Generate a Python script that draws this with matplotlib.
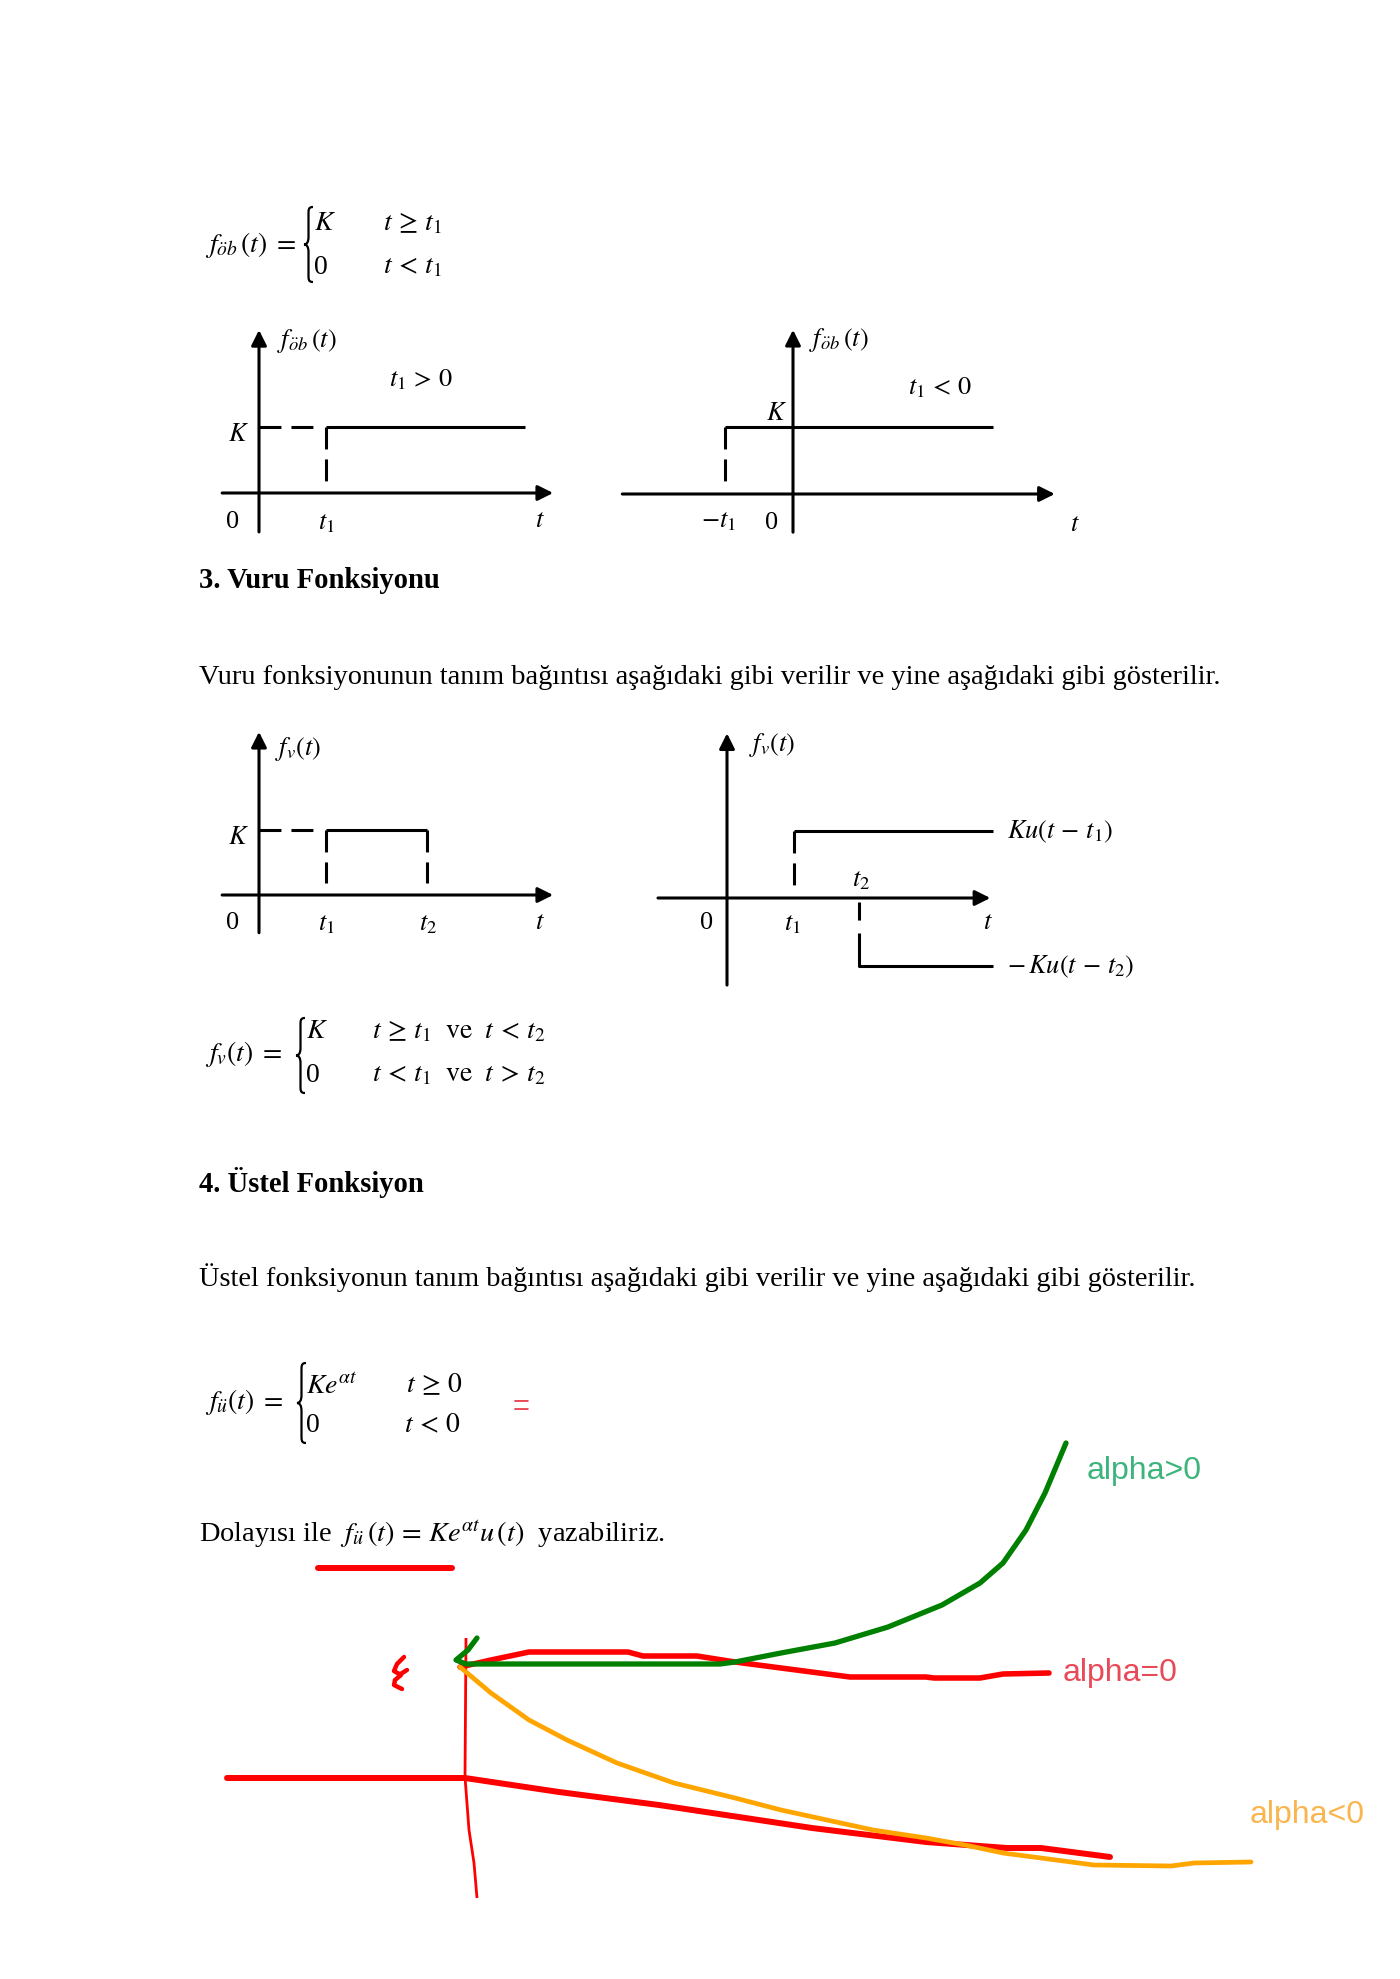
import numpy as np
import matplotlib
matplotlib.use("Agg")
import matplotlib.pyplot as plt
from matplotlib.path import Path
from matplotlib.patches import PathPatch

plt.rcParams.update({
    "font.family": ["Liberation Serif", "DejaVu Serif"],
    "mathtext.fontset": "stix",
    "lines.scale_dashes": False,
    "lines.solid_capstyle": "butt",
})

W, H = 1400, 1979
LW = 2.2                 # axis / signal line width (pt)
DASH = (15.8, 7.2)       # dash pattern (pt)
DIAG_FS = 19
EQ_FS = 20
BODY_FS = 20.4
HEAD_FS = 20.6

# ---------------- diagram data (t in units of t1, f in units of K) ----------------
# step function, t1 > 0
S1_TAXIS = [-0.55, 4.39]
S1_FAXIS = [-0.59, 2.47]
S1_T = [1.0, 3.97]
S1_F = [1.0, 1.0]
S1_GUIDE_T = [0.0, 0.84]
S1_DROP_F = [1.0, 0.15]

# step function, t1 < 0
S2_TAXIS = [-2.51, 3.85]
S2_FAXIS = [-0.57, 2.45]
S2_T = [-1.0, 2.94]
S2_F = [1.0, 1.0]
S2_DROP_F = [1.0, 0.16]

# pulse
P1_TAXIS = [-0.55, 4.39]
P1_FAXIS = [-0.58, 2.51]
P1_T = [1.0, 2.51]
P1_F = [1.0, 1.0]
P1_GUIDE_T = [0.0, 0.84]
P1_DROP_F = [1.0, 0.18]

# pulse as sum of two steps
P2_TAXIS = [-1.03, 3.93]
P2_FAXIS = [-1.29, 2.44]
P2_UP_T = [1.0, 3.97]
P2_UP_F = [1.0, 1.0]
P2_UP_DROP = [1.0, 0.19]
P2_DN_T = [1.97, 1.97, 3.97]
P2_DN_F = [-0.52, -1.0, -1.0]
P2_DN_DROP = [-0.06, -0.52]

# ---------------- hand-drawn sketch (page pixels) ----------------
GREEN_X = [477, 468, 456, 466, 720, 735, 781, 835, 888, 942, 980, 1003, 1026, 1045, 1066]
GREEN_Y = [1638, 1650, 1660, 1664, 1664, 1662, 1653, 1643, 1627, 1605, 1583, 1563, 1530, 1493, 1443]
RED0_X = [460, 491, 529, 628, 643, 697, 735, 781, 850, 926, 934, 980, 1003, 1049]
RED0_Y = [1667, 1660, 1652, 1652, 1656, 1656, 1662, 1668, 1677, 1677, 1678, 1678, 1674, 1673]
ORANGE_X = [460, 491, 529, 567, 617, 674, 735, 781, 827, 873, 926, 965, 1003, 1056, 1094, 1171, 1194, 1251]
ORANGE_Y = [1667, 1693, 1720, 1740, 1763, 1783, 1798, 1810, 1820, 1830, 1838, 1845, 1853, 1860, 1865, 1866, 1863, 1862]
VAXIS_X = [466, 465, 469, 474, 477]
VAXIS_Y = [1638, 1777, 1830, 1863, 1898]
RED_LOW_X = [227, 465, 559, 659, 812, 926, 1007, 1041, 1110]
RED_LOW_Y = [1778, 1778, 1792, 1805, 1828, 1842, 1848, 1848, 1857]
KMARK_X = [404, 397, 394, 401, 395, 394, 402]
KMARK_Y = [1657, 1664, 1671, 1675, 1680, 1685, 1689]
KTICK_X = [399, 407]
KTICK_Y = [1675, 1670]
UNDER_X = [318, 452]
UNDER_Y = [1568, 1568]

fig = plt.figure(figsize=(W / 100, H / 100), dpi=100)
page = fig.add_axes([0, 0, 1, 1])
page.set_xlim(0, W); page.set_ylim(H, 0); page.axis("off")


def diagram(ox, oy, ux, uy):
    """Full-page transparent axes whose data origin sits at pixel (ox, oy)."""
    ax = fig.add_axes([0, 0, 1, 1])
    ax.set_xlim(-ox / ux, (W - ox) / ux)
    ax.set_ylim((oy - H) / uy, oy / uy)
    ax.axis("off"); ax.patch.set_alpha(0)
    return ax


def axes_arrows(ax, trange, frange):
    kw = dict(arrowstyle="-|>", lw=LW, color="k", mutation_scale=23, shrinkA=0, shrinkB=0)
    ax.annotate("", xy=(trange[1], 0), xytext=(trange[0], 0), arrowprops=kw)
    ax.annotate("", xy=(0, frange[1]), xytext=(0, frange[0]), arrowprops=kw)


def dashed(ax, x, y):
    ax.plot(x, y, color="k", lw=LW, dashes=DASH)


def brace(x, y0, y1, w=9):
    h = y1 - y0; ym = (y0 + y1) / 2; xm = x + w * 0.5
    verts = [(x + w, y0), (x + w * 0.45, y0), (xm, y0 + h * 0.04), (xm, y0 + h * 0.12),
             (xm, ym - h * 0.10),
             (xm, ym - h * 0.03), (x + w * 0.3, ym), (x, ym),
             (x + w * 0.3, ym), (xm, ym + h * 0.03), (xm, ym + h * 0.10),
             (xm, y1 - h * 0.12),
             (xm, y1 - h * 0.04), (x + w * 0.45, y1), (x + w, y1)]
    codes = [Path.MOVETO] + [Path.CURVE4] * 3 + [Path.LINETO] + [Path.CURVE4] * 6 + \
            [Path.LINETO] + [Path.CURVE4] * 3
    page.add_patch(PathPatch(Path(verts, codes), fill=False, lw=1.6, color="k"))


def eq(x, y, s, fs=EQ_FS, **kw):
    page.text(x, y, s, fontsize=fs, va="center", ha="left", **kw)


def lbl(ax, x, y, s, ha="center"):
    ax.text(x, y, s, fontsize=DIAG_FS, va="center", ha=ha)


# ---------------- formula 1 ----------------
eq(205, 245, r"$f_{\ddot{o}b}\,(t)\;=$")
brace(304, 207, 282)
eq(314, 224, r"$K$"); eq(314, 267, "0")
eq(383, 224, r"$t\,\geq\, t_1$"); eq(383, 267, r"$t\,<\,t_1$")

# ---------------- diagram 1 ----------------
d1 = diagram(259, 493, 67, 66)
axes_arrows(d1, S1_TAXIS, S1_FAXIS)
d1.plot(S1_T, S1_F, color="k", lw=LW)
dashed(d1, S1_GUIDE_T, [S1_F[0]] * 2)
dashed(d1, [S1_T[0]] * 2, S1_DROP_F)
lbl(d1, 0.27, 2.3, r"$f_{\ddot{o}b}\,(t)$", ha="left")
lbl(d1, 2.42, 1.72, r"$t_1\,>\,0$")
lbl(d1, -0.31, 0.88, r"$K$")
lbl(d1, -0.39, -0.44, "0")
lbl(d1, 1.0, -0.46, r"$t_1$")
lbl(d1, 4.19, -0.43, r"$t$")

# ---------------- diagram 2 ----------------
d2 = diagram(793, 494, 68, 67)
axes_arrows(d2, S2_TAXIS, S2_FAXIS)
d2.plot(S2_T, S2_F, color="k", lw=LW)
dashed(d2, [S2_T[0]] * 2, S2_DROP_F)
lbl(d2, 0.24, 2.3, r"$f_{\ddot{o}b}\,(t)$", ha="left")
lbl(d2, 2.16, 1.58, r"$t_1\,<\,0$")
lbl(d2, -0.24, 1.2, r"$K$")
lbl(d2, -1.1, -0.41, r"$-t_1$")
lbl(d2, -0.31, -0.43, "0")
lbl(d2, 4.15, -0.46, r"$t$")

# ---------------- section 3 ----------------
page.text(199, 581, "3. Vuru Fonksiyonu", fontsize=HEAD_FS, fontweight="bold", va="center")
page.text(199, 678, "Vuru fonksiyonunun tanım bağıntısı aşağıdaki gibi verilir ve yine "
          "aşağıdaki gibi gösterilir.", fontsize=BODY_FS, va="center")

# ---------------- diagram 3 ----------------
d3 = diagram(259, 895, 67, 65)
axes_arrows(d3, P1_TAXIS, P1_FAXIS)
d3.plot(P1_T, P1_F, color="k", lw=LW)
dashed(d3, P1_GUIDE_T, [P1_F[0]] * 2)
dashed(d3, [P1_T[0]] * 2, P1_DROP_F)
dashed(d3, [P1_T[1]] * 2, P1_DROP_F)
lbl(d3, 0.24, 2.24, r"$f_v(t)$", ha="left")
lbl(d3, -0.31, 0.88, r"$K$")
lbl(d3, -0.4, -0.43, "0")
lbl(d3, 1.0, -0.45, r"$t_1$")
lbl(d3, 2.52, -0.45, r"$t_2$")
lbl(d3, 4.19, -0.43, r"$t$")

# ---------------- diagram 4 ----------------
d4 = diagram(727, 898, 67, 67.5)
axes_arrows(d4, P2_TAXIS, P2_FAXIS)
d4.plot(P2_UP_T, P2_UP_F, color="k", lw=LW)
dashed(d4, [P2_UP_T[0]] * 2, P2_UP_DROP)
d4.plot(P2_DN_T, P2_DN_F, color="k", lw=LW)
d4.plot([P2_DN_T[0]] * 2, P2_DN_DROP, color="k", lw=LW, dashes=(13, 9.4))
lbl(d4, 0.33, 2.27, r"$f_v(t)$", ha="left")
lbl(d4, 4.18, 0.98, r"$Ku(t\,-\,t_1)$", ha="left")
lbl(d4, 2.0, 0.25, r"$t_2$")
lbl(d4, -0.3, -0.37, "0")
lbl(d4, 0.98, -0.39, r"$t_1$")
lbl(d4, 3.9, -0.37, r"$t$")
lbl(d4, 4.18, -1.02, r"$-\,Ku(t\,-\,t_2)$", ha="left")

# ---------------- formula 2 ----------------
eq(205, 1054, r"$f_v(t)\;=$")
brace(296, 1018, 1093)
eq(306, 1032, r"$K$"); eq(306, 1075, "0")
eq(372, 1032, r"$t\,\geq\, t_1\ \ \mathrm{ve}\ \ t\,<\,t_2$")
eq(372, 1075, r"$t\,<\,t_1\ \ \mathrm{ve}\ \ t\,>\,t_2$")

# ---------------- section 4 ----------------
page.text(199, 1182, "4. Üstel Fonksiyon", fontsize=HEAD_FS, fontweight="bold", va="center")
page.text(199, 1278, "Üstel fonksiyonun tanım bağıntısı aşağıdaki gibi verilir ve yine "
          "aşağıdaki gibi gösterilir.", fontsize=BODY_FS, va="center")

# ---------------- formula 3 ----------------
eq(205, 1402, r"$f_{\ddot{u}}(t)\;=$")
brace(297, 1363, 1443)
eq(306, 1387, r"$Ke^{\alpha t}$"); eq(306, 1426, "0")
eq(406, 1385, r"$t\,\geq\, 0$"); eq(404, 1426, r"$t\,<\,0$")
page.text(513, 1407, "=", fontsize=21, color="#e84a57", family="Liberation Sans",
          va="center", ha="left")

page.text(199, 1535, r"Dolayısı ile  $f_{\ddot{u}}\,(t) \,=\, Ke^{\alpha t}u\,(t)$  yazabiliriz.",
          fontsize=BODY_FS, va="center")

# ---------------- hand-drawn annotations ----------------
page.plot(UNDER_X, UNDER_Y, color="#ff0000", lw=4.3, solid_capstyle="round")
page.plot(VAXIS_X, VAXIS_Y, color="#ff0000", lw=2.0)
page.plot(RED_LOW_X, RED_LOW_Y, color="#ff0000", lw=4.3, solid_capstyle="round",
          solid_joinstyle="round")
page.plot(RED0_X, RED0_Y, color="#ff0000", lw=4.0, solid_capstyle="round",
          solid_joinstyle="round")
page.plot(ORANGE_X, ORANGE_Y, color="#ffa500", lw=3.4, solid_capstyle="round",
          solid_joinstyle="round")
page.plot(GREEN_X, GREEN_Y, color="#008000", lw=3.8, solid_capstyle="round",
          solid_joinstyle="round")
page.plot(KMARK_X, KMARK_Y, color="#ff0000", lw=3.2, solid_capstyle="round",
          solid_joinstyle="round")
page.plot(KTICK_X, KTICK_Y, color="#ff0000", lw=3.2, solid_capstyle="round")

lab = dict(fontsize=23, family="Liberation Sans", va="center", ha="left")
page.text(1087, 1471, "alpha>0", color="#3cb47c", **lab)
page.text(1063, 1673, "alpha=0", color="#e84a57", **lab)
page.text(1250, 1815, "alpha<0", color="#f9b54e", **lab)

fig.savefig("out.png", dpi=100, facecolor="white")
